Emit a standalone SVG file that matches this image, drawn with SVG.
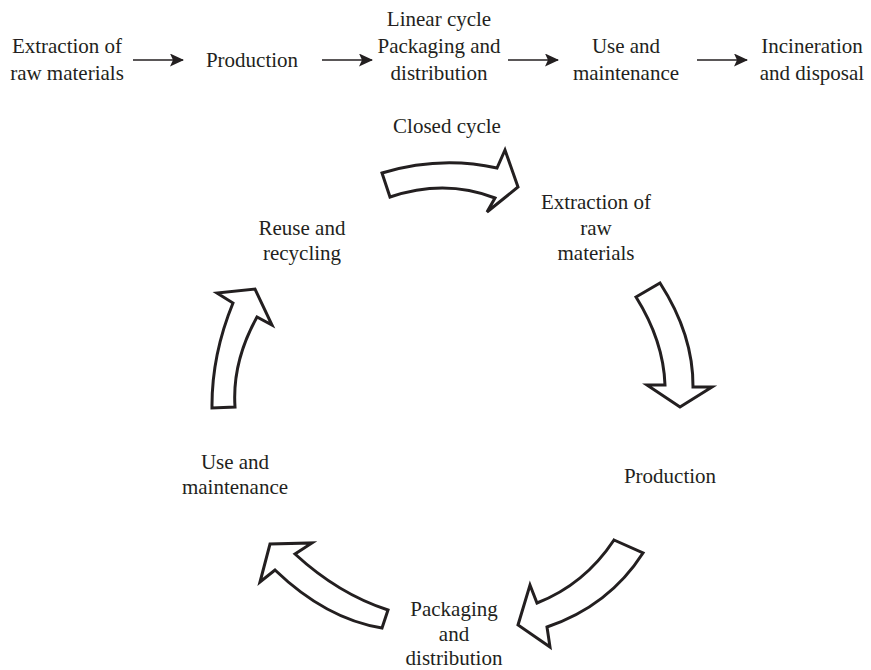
<svg xmlns="http://www.w3.org/2000/svg" width="871" height="670" viewBox="0 0 871 670">
  <style>
    text { font-family: "Liberation Serif", "Times New Roman", serif; font-size: 21px; fill: #231f20; text-anchor: middle; }
    .flow { stroke: #231f20; stroke-width: 1.6; fill: none; }
    .block { fill: #ffffff; stroke: #231f20; stroke-width: 3; stroke-linejoin: miter; }
  </style>
  <defs>
    <marker id="head" viewBox="0 0 14 13" refX="13" refY="6.5" markerWidth="14" markerHeight="13" markerUnits="userSpaceOnUse" orient="auto">
      <path d="M0,0 L14,6.5 L0,13 L3,6.5 Z" fill="#231f20"/>
    </marker>
  </defs>
  <rect width="871" height="670" fill="#ffffff"/>

  <!-- Linear cycle -->
  <g id="linear-title"><text x="439" y="26">Linear cycle</text></g>
  <g id="lin-extraction"><text x="67" y="53">Extraction of</text><text x="67" y="80">raw materials</text></g>
  <g id="lin-production"><text x="252" y="67">Production</text></g>
  <g id="lin-packaging"><text x="439" y="53">Packaging and</text><text x="439" y="80">distribution</text></g>
  <g id="lin-use"><text x="626" y="53">Use and</text><text x="626" y="80">maintenance</text></g>
  <g id="lin-disposal"><text x="812" y="53">Incineration</text><text x="812" y="80">and disposal</text></g>

  <g id="linear-connectors">
    <line class="flow" x1="133" y1="60" x2="183" y2="60" marker-end="url(#head)"/>
    <line class="flow" x1="322" y1="60" x2="372" y2="60" marker-end="url(#head)"/>
    <line class="flow" x1="508" y1="60" x2="558" y2="60" marker-end="url(#head)"/>
    <line class="flow" x1="697" y1="60" x2="747" y2="60" marker-end="url(#head)"/>
  </g>

  <!-- Closed cycle -->
  <g id="closed-title"><text x="447" y="133">Closed cycle</text></g>
  <g id="cyc-extraction"><text x="596" y="209">Extraction of</text><text x="596" y="235">raw</text><text x="596" y="260">materials</text></g>
  <g id="cyc-production"><text x="670" y="483">Production</text></g>
  <g id="cyc-packaging"><text x="454" y="616">Packaging</text><text x="454" y="641">and</text><text x="454" y="665">distribution</text></g>
  <g id="cyc-use"><text x="235" y="469">Use and</text><text x="235" y="494">maintenance</text></g>
  <g id="cyc-reuse"><text x="302" y="235">Reuse and</text><text x="302" y="260">recycling</text></g>

  <g id="cycle-connectors">
    <!-- top: reuse to extraction -->
    <path class="block" d="M382,173 Q440,155.5 497,168 L505,150 L518,187 L487,212 L495,198 Q445,178.5 390,197 Z"/>
    <!-- right: extraction to production -->
    <path class="block" d="M636,297 L660,283 Q693.5,335 693,387 L712,387 L680,407 L647,385 L665,385 Q663.5,341 636,297 Z"/>
    <!-- bottom right: production to packaging -->
    <path class="block" d="M614,540 L643,553 Q609,606 547,627 L550,647 L518,625 L530,585 L537,603 Q584.5,584.5 614,540 Z"/>
    <!-- bottom left: packaging to use -->
    <path class="block" d="M388,610 L382,628 Q326,619 275,570 L260,582 L270,544 L312,543 L295,554 Q338.5,594 388,610 Z"/>
    <!-- left: use to reuse -->
    <path class="block" d="M212,408 Q211.5,355.5 233,303 L217,293 L255,289 L272,325 L257,317 Q232,362 235,407 Z"/>
  </g>
</svg>
